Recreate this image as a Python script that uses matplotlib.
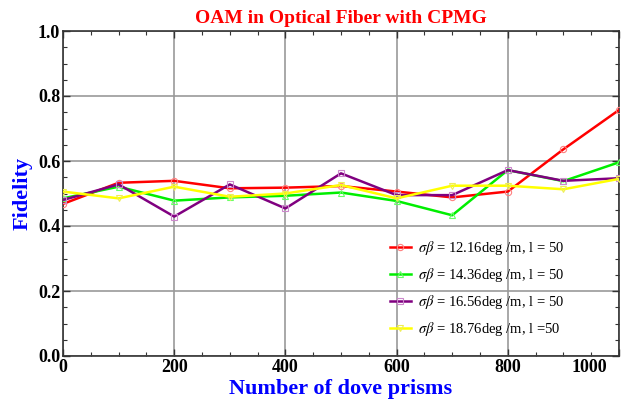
import matplotlib
matplotlib.use("Agg")
import matplotlib.pyplot as plt
from matplotlib.ticker import MultipleLocator
from matplotlib.transforms import ScaledTranslation

# Number of dove prisms
prisms = [0, 100, 200, 300, 400, 500, 600, 700, 800, 900, 1000]

fid_1216 = [0.468, 0.533, 0.539, 0.516, 0.518, 0.523, 0.506, 0.488, 0.506, 0.636, 0.757]
fid_1436 = [0.485, 0.521, 0.478, 0.488, 0.493, 0.503, 0.477, 0.433, 0.572, 0.538, 0.596]
fid_1656 = [0.480, 0.528, 0.429, 0.528, 0.454, 0.562, 0.495, 0.495, 0.572, 0.539, 0.547]
fid_1876 = [0.506, 0.485, 0.521, 0.490, 0.500, 0.526, 0.485, 0.524, 0.524, 0.513, 0.545]

labels = [
    r"$\sigma\beta$ = 12.16deg /m, l = 50",
    r"$\sigma\beta$ = 14.36deg /m, l = 50",
    r"$\sigma\beta$ = 16.56deg /m, l = 50",
    r"$\sigma\beta$ = 18.76deg /m, l =50",
]

plt.rcParams.update({
    "font.family": "Liberation Serif",
    "mathtext.fontset": "stix",
})

fig = plt.figure(figsize=(6.28, 4.03), dpi=100)
ax = fig.add_axes([63 / 628, 1 - 356 / 403, 556 / 628, 325 / 403])

styles = [
    (fid_1216, "#ff0000", "#ff8080", "o"),
    (fid_1436, "#00ee00", "#66ff66", "^"),
    (fid_1656, "#800080", "#cc88cc", "s"),
    (fid_1876, "#ffff00", "#eeee55", "v"),
]
for (vals, col, mcol, mk), lab in zip(styles, labels):
    ax.plot(prisms, vals, color=col, lw=1.8, marker=mk, ms=4.5,
            mfc="none", mec=mcol, mew=0.8, label=lab, zorder=3)

ax.set_xlim(0, 1000)
ax.set_ylim(0, 1.0)
ax.xaxis.set_minor_locator(MultipleLocator(50))
ax.yaxis.set_minor_locator(MultipleLocator(0.05))
xt = [0, 200, 400, 600, 800, 1000]
yt = [0.0, 0.2, 0.4, 0.6, 0.8, 1.0]
ax.set_xticks(xt, [str(v) for v in xt], fontweight="bold")
ax.set_yticks(yt, [f"{v:.1f}" for v in yt], fontweight="bold")

ax.grid(True, which="major", color="#999999", lw=1.2, zorder=0)
ax.tick_params(which="both", direction="in", top=True, right=True,
               labelsize=13, pad=2, color="#333333")
ax.tick_params(which="major", length=5, width=1)
ax.tick_params(which="minor", length=3, width=0.8)
for s in ax.spines.values():
    s.set_color("#333333")
    s.set_linewidth(1.2)

# last x label sits a bit left of its tick, as in the original
for t in ax.get_xticklabels():
    if t.get_text() == "1000":
        t.set_horizontalalignment("right")
        t.set_transform(t.get_transform() + ScaledTranslation(-0.12, 0, fig.dpi_scale_trans))

ax.set_title("OAM in Optical Fiber with CPMG", color="#ff0000",
             fontsize=14, fontweight="bold", pad=6)
ax.set_xlabel("Number of dove prisms", color="#0000ff", fontsize=16,
              fontweight="bold", labelpad=2)
ax.set_ylabel("Fidelity", color="#0000ff", fontsize=16,
              fontweight="bold", labelpad=4)

ax.legend(loc="lower right", frameon=False, fontsize=10.5,
          bbox_to_anchor=(0.925, 0.015), handlelength=1.4,
          labelspacing=0.62, handletextpad=0.5)

fig.savefig("out.png", dpi=100)
